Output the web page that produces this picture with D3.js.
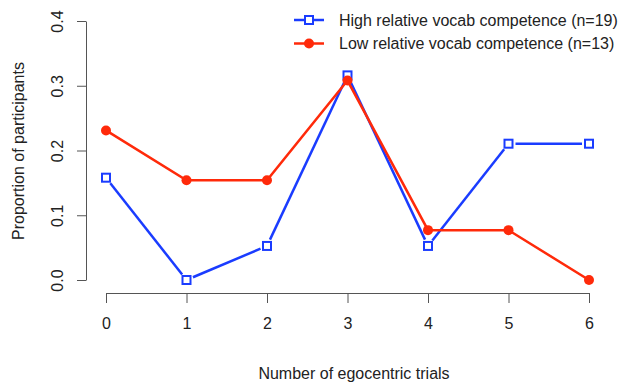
<!DOCTYPE html>
<html><head><meta charset="utf-8">
<script src="https://cdn.jsdelivr.net/npm/d3@7"></script>
<style>body{margin:0;background:#fff}text{font-family:"Liberation Sans",Arial,sans-serif;fill:#222}</style>
</head><body>
<script>
const trials = [0,1,2,3,4,5,6];
const highVals = [0.158,0,0.0526,0.316,0.0526,0.2105,0.2105];
const lowVals = [0.231,0.154,0.154,0.308,0.077,0.077,0];
const yTicks = [0,0.1,0.2,0.3,0.4];
const seriesNames = ["High relative vocab competence (n=19)","Low relative vocab competence (n=13)"];
const blue = "#1a3cff", red = "#ff2a0a";

const W=629,H=384;
const svg = d3.select("body").append("svg").attr("width",W).attr("height",H);
const x = d3.scaleLinear().domain([0,6]).range([106,589]);
const y = d3.scaleLinear().domain([0,0.4]).range([280,21]);

// x axis
const xa = svg.append("g").attr("transform","translate(0,293)")
  .call(d3.axisBottom(x).tickValues(trials).tickFormat(d3.format("d")).tickSize(10).tickPadding(15).tickSizeOuter(0));
xa.select(".domain").attr("stroke","#555");
xa.selectAll(".tick line").attr("stroke","#555");
xa.selectAll(".tick text").attr("font-size",16).attr("fill","#222");

// y axis
const ya = svg.append("g").attr("transform","translate(86,0)")
  .call(d3.axisLeft(y).tickValues(yTicks).tickFormat(d3.format(".1f")).tickSize(9).tickSizeOuter(0));
ya.select(".domain").attr("stroke","#555");
ya.selectAll(".tick line").attr("stroke","#555");
ya.selectAll(".tick text").attr("font-size",16).attr("fill","#222")
  .attr("x",0).attr("dy",0)
  .attr("transform","translate(-23,0) rotate(-90)")
  .attr("text-anchor","middle");

svg.append("text").attr("transform","translate(24,151) rotate(-90)").attr("text-anchor","middle")
  .attr("font-size",16).text("Proportion of participants");
svg.append("text").attr("x",354).attr("y",379).attr("text-anchor","middle")
  .attr("font-size",16).text("Number of egocentric trials");

// blue line with gaps
const gap=7;
const hp = trials.map((t,i)=>[x(t),y(highVals[i])]);
for(let i=0;i<hp.length-1;i++){
  const [x1,y1]=hp[i],[x2,y2]=hp[i+1];
  const dx=x2-x1,dy=y2-y1,L=Math.hypot(dx,dy);
  if(L<2*gap) continue;
  svg.append("line").attr("x1",x1+dx/L*gap).attr("y1",y1+dy/L*gap)
    .attr("x2",x2-dx/L*gap).attr("y2",y2-dy/L*gap)
    .attr("stroke",blue).attr("stroke-width",2.5);
}
// red line
svg.append("path").datum(trials.map((t,i)=>[t,lowVals[i]]))
  .attr("d",d3.line().x(d=>x(d[0])).y(d=>y(d[1])))
  .attr("fill","none").attr("stroke",red).attr("stroke-width",2.5);
svg.selectAll(".sq").data(trials).enter().append("rect")
  .attr("x",d=>x(d)-4).attr("y",(d,i)=>y(highVals[i])-4).attr("width",8).attr("height",8)
  .attr("fill","none").attr("stroke",blue).attr("stroke-width",2);
svg.selectAll(".ci").data(trials).enter().append("circle")
  .attr("cx",d=>x(d)).attr("cy",(d,i)=>y(lowVals[i])).attr("r",5).attr("fill",red);

// legend
const lg = svg.append("g");
[0,1].forEach(i=>{
  const yy = 20+i*23.5, c = i===0?blue:red;
  lg.append("line").attr("x1",294).attr("x2",324).attr("y1",yy).attr("y2",yy).attr("stroke",c).attr("stroke-width",2.5);
  if(i===0) lg.append("rect").attr("x",305).attr("y",yy-4).attr("width",8).attr("height",8).attr("fill","#fff").attr("stroke",c).attr("stroke-width",2);
  else lg.append("circle").attr("cx",309).attr("cy",yy).attr("r",5).attr("fill",c);
  lg.append("text").attr("x",339).attr("y",yy).attr("dy","0.35em").attr("font-size",16).text(seriesNames[i]);
});
</script>
</body></html>
